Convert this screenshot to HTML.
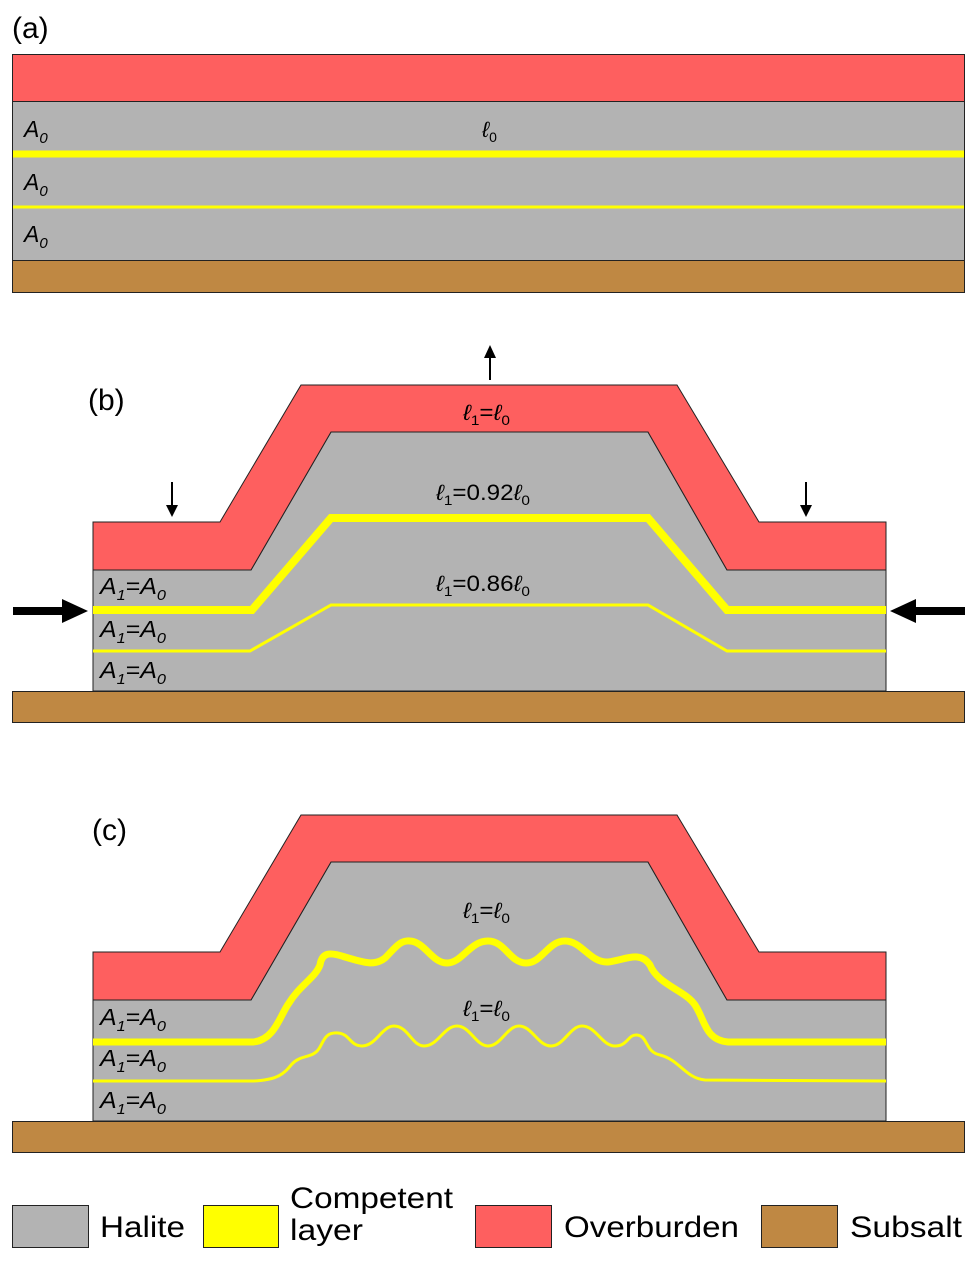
<!DOCTYPE html>
<html><head><meta charset="utf-8"><style>html,body{margin:0;padding:0;background:#fff}svg{display:block}text{font-family:"Liberation Sans",sans-serif}</style></head><body>
<svg width="978" height="1261" viewBox="0 0 978 1261" xmlns="http://www.w3.org/2000/svg">
<defs>
<g id="A"><text font-size="23" font-style="italic" textLength="66" lengthAdjust="spacingAndGlyphs">A<tspan font-size="15" dy="6">1</tspan><tspan font-style="normal" dy="-6">=</tspan>A<tspan font-size="15" dy="6">0</tspan></text></g>
</defs>
<!-- panel a -->
<text x="12" y="38" font-size="30">(a)</text>
<rect x="12.5" y="54.5" width="952" height="47" fill="#fe5f5f" stroke="#222"/>
<rect x="12.5" y="101.5" width="952" height="159" fill="#b3b3b3" stroke="#222"/>
<rect x="12.5" y="260.5" width="952" height="32" fill="#bf8843" stroke="#222"/>
<line x1="13" y1="154" x2="964" y2="154" stroke="#ff0" stroke-width="7"/>
<line x1="13" y1="207" x2="964" y2="207" stroke="#ff0" stroke-width="3"/>
<text x="24" y="137" font-size="23" font-style="italic">A<tspan font-size="15" dy="6">0</tspan></text>
<text x="24" y="190" font-size="23" font-style="italic">A<tspan font-size="15" dy="6">0</tspan></text>
<text x="24" y="242" font-size="23" font-style="italic">A<tspan font-size="15" dy="6">0</tspan></text>
<text x="482" y="137" font-size="22" font-style="italic">ℓ<tspan font-size="14" font-style="normal" dy="5">0</tspan></text>
<!-- panel b -->
<text x="88" y="410" font-size="30">(b)</text>
<rect x="12.5" y="691.5" width="952" height="31" fill="#bf8843" stroke="#222"/>
<polygon points="93,570 251,570 331,432 648,432 727,570 886,570 886,691 93,691" fill="#b3b3b3" stroke="#222"/>
<polygon points="93,522 220,522 301,385 677,385 759,522 886,522 886,570 727,570 648,432 331,432 251,570 93,570" fill="#fe5f5f" stroke="#222"/>
<polyline points="93,610 252,610 331,518 648,518 727,610 886,610" fill="none" stroke="#ff0" stroke-width="8"/>
<polyline points="93,651 250,651 331,605 648,605 727,651 886,651" fill="none" stroke="#ff0" stroke-width="3"/>
<g stroke="#000" stroke-width="2" fill="#000">
<line x1="490" y1="380" x2="490" y2="354"/><polygon points="484,358 490,345 496,358" stroke="none"/>
<line x1="172" y1="482" x2="172" y2="508"/><polygon points="166,505 172,517 178,505" stroke="none"/>
<line x1="806" y1="482" x2="806" y2="508"/><polygon points="800,505 806,517 812,505" stroke="none"/>
</g>
<rect x="13" y="607" width="52" height="8" fill="#000"/><polygon points="62,599 88,611 62,623" fill="#000"/>
<rect x="913" y="607" width="52" height="8" fill="#000"/><polygon points="916,599 890,611 916,623" fill="#000"/>
<text x="463" y="420" font-size="22" font-style="italic" textLength="47" lengthAdjust="spacingAndGlyphs">ℓ<tspan font-size="14" font-style="normal" dy="5">1</tspan><tspan font-style="normal" dy="-5">=</tspan>ℓ<tspan font-size="14" font-style="normal" dy="5">0</tspan></text>
<text x="436" y="500" font-size="22" font-style="italic" textLength="94" lengthAdjust="spacingAndGlyphs">ℓ<tspan font-size="14" font-style="normal" dy="5">1</tspan><tspan font-style="normal" dy="-5">=0.92</tspan>ℓ<tspan font-size="14" font-style="normal" dy="5">0</tspan></text>
<text x="436" y="591" font-size="22" font-style="italic" textLength="94" lengthAdjust="spacingAndGlyphs">ℓ<tspan font-size="14" font-style="normal" dy="5">1</tspan><tspan font-style="normal" dy="-5">=0.86</tspan>ℓ<tspan font-size="14" font-style="normal" dy="5">0</tspan></text>
<use href="#A" x="100" y="594"/><use href="#A" x="100" y="637"/><use href="#A" x="100" y="678"/>
<!-- panel c -->
<text x="92" y="840" font-size="30">(c)</text>
<rect x="12.5" y="1121.5" width="952" height="31" fill="#bf8843" stroke="#222"/>
<polygon points="93,1000 251,1000 331,862 648,862 727,1000 886,1000 886,1121 93,1121" fill="#b3b3b3" stroke="#222"/>
<polygon points="93,952 220,952 301,815 677,815 759,952 886,952 886,1000 727,1000 648,862 331,862 251,1000 93,1000" fill="#fe5f5f" stroke="#222"/>
<path d="M93,1042 L253,1042 C275,1040 280,1015 289,1003 C300,985 315,978 320,965 C322,952 330,952 345,957 C365,963 375,966 385,958 C395,948 400,940 410,941 C425,942 432,963 447,963 C462,963 470,941 488,941 C505,941 510,963 526,963 C542,963 548,941 565,941 C582,941 590,963 608,962 C625,960 640,950 650,965 C658,985 685,990 695,1005 C705,1020 705,1040 728,1042 L886,1042" fill="none" stroke="#ff0" stroke-width="7"/>
<path d="M93,1081 L253,1081 C280,1080 285,1072 292,1064 C300,1055 312,1058 318,1050 C324,1042 324,1032 338,1033 C350,1034 350,1046 362,1046 C376,1046 382,1026 394,1026 C408,1026 412,1046 424,1046 C438,1046 444,1026 457,1026 C470,1026 476,1046 488,1046 C501,1046 507,1026 519,1026 C532,1026 538,1046 551,1046 C564,1046 570,1026 582,1026 C596,1026 602,1046 615,1046 C628,1046 628,1034 637,1035 C648,1036 645,1052 660,1055 C680,1060 685,1078 705,1080 L886,1081" fill="none" stroke="#ff0" stroke-width="3"/>
<text x="463" y="918" font-size="22" font-style="italic" textLength="47" lengthAdjust="spacingAndGlyphs">ℓ<tspan font-size="14" font-style="normal" dy="5">1</tspan><tspan font-style="normal" dy="-5">=</tspan>ℓ<tspan font-size="14" font-style="normal" dy="5">0</tspan></text>
<text x="463" y="1016" font-size="22" font-style="italic" textLength="47" lengthAdjust="spacingAndGlyphs">ℓ<tspan font-size="14" font-style="normal" dy="5">1</tspan><tspan font-style="normal" dy="-5">=</tspan>ℓ<tspan font-size="14" font-style="normal" dy="5">0</tspan></text>
<use href="#A" x="100" y="1025"/><use href="#A" x="100" y="1066"/><use href="#A" x="100" y="1108"/>
<!-- legend -->
<rect x="12.5" y="1205.5" width="76" height="42" fill="#b3b3b3" stroke="#222"/>
<rect x="203.5" y="1205.5" width="75" height="42" fill="#ff0" stroke="#222"/>
<rect x="475.5" y="1205.5" width="76" height="42" fill="#fe5f5f" stroke="#222"/>
<rect x="761.5" y="1205.5" width="76" height="42" fill="#bf8843" stroke="#222"/>
<text x="100" y="1237" font-size="30" textLength="85" lengthAdjust="spacingAndGlyphs">Halite</text>
<text x="290" y="1208" font-size="30" textLength="163" lengthAdjust="spacingAndGlyphs">Competent</text>
<text x="290" y="1240" font-size="30" textLength="73" lengthAdjust="spacingAndGlyphs">layer</text>
<text x="564" y="1237" font-size="30" textLength="175" lengthAdjust="spacingAndGlyphs">Overburden</text>
<text x="850" y="1237" font-size="30" textLength="112" lengthAdjust="spacingAndGlyphs">Subsalt</text>
</svg>
</body></html>
